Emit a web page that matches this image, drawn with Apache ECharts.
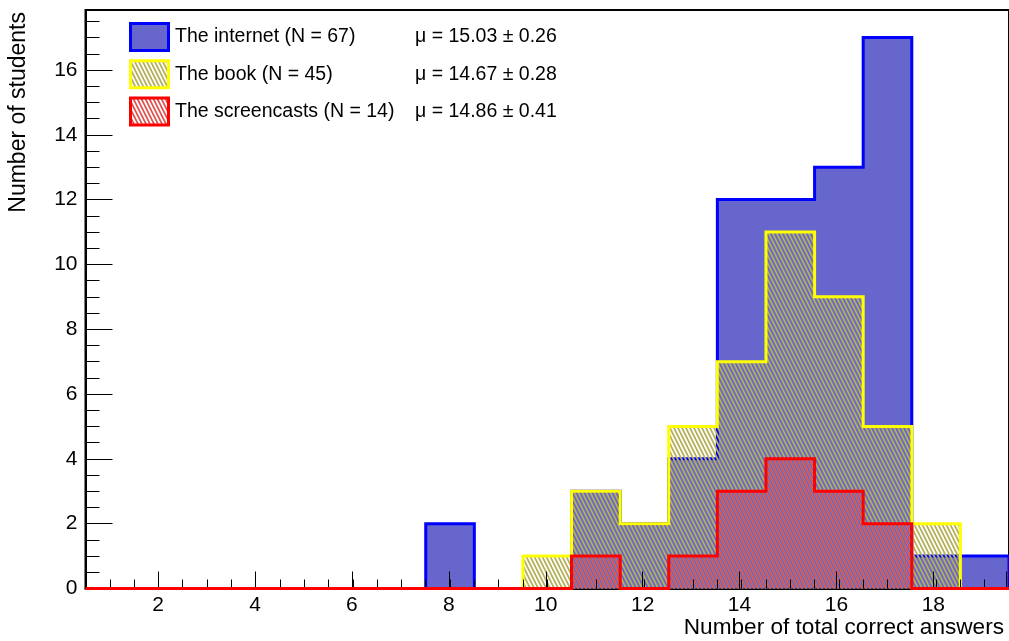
<!DOCTYPE html>
<html><head><meta charset="utf-8">
<script src="https://cdn.jsdelivr.net/npm/echarts@6/dist/echarts.min.js"></script>
<style>html,body{margin:0;padding:0;background:#fff}#c{width:1009px;height:641px}</style>
</head><body><div id="c"></div>
<script>
// ---- data ----
const binCenters = [1,2,3,4,5,6,7,8,9,10,11,12,13,14,15,16,17,18,19];
const internet    = [0,0,0,0,0,0,0,2,0,0,3,2,4,12,12,13,17,1,1];
const book        = [0,0,0,0,0,0,0,0,0,1,3,2,5,7,11,9,5,2,0];
const screencasts = [0,0,0,0,0,0,0,0,0,0,1,0,1,3,4,3,2,0,0];
const seriesNames = ['The internet (N = 67)', 'The book (N = 45)', 'The screencasts (N = 14)'];
const meanLabels  = ['\u03bc = 15.03 \u00b1 0.26', '\u03bc = 14.67 \u00b1 0.28', '\u03bc = 14.86 \u00b1 0.41'];
const xTitle = 'Number of total correct answers';
const yTitle = 'Number of students';
const xRange = [0.5, 19.5];
const yRange = [0, 17.85];

// ---- styles ----
const FONT = 'Liberation Sans, Arial, Helvetica, sans-serif';
function hatch(color, lw) {
  const W = 4, H = 8;
  const c = document.createElement('canvas'); c.width = W; c.height = H;
  const g = c.getContext('2d');
  g.strokeStyle = color; g.lineWidth = lw;
  for (let k = -2; k <= 2; k++) {
    g.beginPath();
    g.moveTo(k * W - W * 0.5, -H * 0.5);
    g.lineTo(k * W + W * 1.5, H * 1.5);
    g.stroke();
  }
  return { image: c, repeat: 'repeat' };
}
const histStyles = [
  { fill: '#6666cc', stroke: '#0000ff' },
  { fill: hatch('#b4b05a', 1.8), stroke: '#ffff00' },
  { fill: hatch('#e05050', 1.7), stroke: '#ff0000' }
];
const histData = [internet, book, screencasts];

function histPoints(api, vals) {
  const half = (binCenters[1] - binCenters[0]) / 2;
  const pts = [api.coord([binCenters[0] - half, 0])];
  vals.forEach((v, i) => {
    pts.push(api.coord([binCenters[i] - half, v]));
    pts.push(api.coord([binCenters[i] + half, v]));
  });
  pts.push(api.coord([binCenters[binCenters.length - 1] + half, 0]));
  return pts;
}

const series = [];
histData.forEach((vals, k) => {
  const data = binCenters.map((b, i) => [b, vals[i]]);
  series.push({
    type: 'custom', name: seriesNames[k] + ' fill', xAxisIndex: 0, yAxisIndex: 0,
    z: 2, clip: false, silent: true, data,
    renderItem: (params, api) => params.dataIndex !== 0 ? null : {
      type: 'polygon', shape: { points: histPoints(api, vals) },
      style: { fill: histStyles[k].fill, stroke: null }
    }
  });
  series.push({
    type: 'custom', name: seriesNames[k], xAxisIndex: 0, yAxisIndex: 0,
    z: k === 2 ? 4 : 2, clip: false, silent: true, data,
    renderItem: (params, api) => params.dataIndex !== 0 ? null : {
      type: 'polyline', shape: { points: histPoints(api, vals) },
      style: { fill: null, stroke: histStyles[k].stroke, lineWidth: 3, lineJoin: 'miter' }
    }
  });
});

const gridRect = { left: 85.5, top: 10, width: 925, height: 578.5 };
const intLabel = v => (Math.abs(v - Math.round(v)) < 1e-6 ? String(Math.round(v)) : '');
const tickLine = { color: '#000', width: 1 };

const option = {
  animation: false,
  backgroundColor: '#fff',
  grid: [
    Object.assign({ show: true, borderColor: '#000', borderWidth: 2, backgroundColor: 'transparent' }, gridRect),
    Object.assign({}, gridRect),
    Object.assign({}, gridRect)
  ],
  xAxis: [
    { gridIndex: 0, type: 'value', min: xRange[0], max: xRange[1], z: 0,
      axisLine: { show: true, lineStyle: { color: '#000', width: 2 } }, axisTick: { show: false },
      axisLabel: { show: false }, splitLine: { show: false } },
    { gridIndex: 1, type: 'value', min: xRange[0], max: xRange[1], interval: 0.5, z: 3,
      axisLine: { show: false }, axisTick: { show: true, inside: true, length: 9, lineStyle: tickLine },
      axisLabel: { show: false }, splitLine: { show: false } },
    { gridIndex: 2, type: 'value', min: xRange[0], max: xRange[1], minInterval: 2, maxInterval: 2, z: 3,
      axisLine: { show: false }, axisTick: { show: true, inside: true, length: 17, lineStyle: tickLine },
      axisLabel: { show: true, formatter: intLabel, color: '#000', fontSize: 21, fontFamily: FONT, margin: 6 },
      splitLine: { show: false } }
  ],
  yAxis: [
    { gridIndex: 0, type: 'value', min: yRange[0], max: yRange[1], z: 0,
      axisLine: { show: true, lineStyle: { color: '#000', width: 2 } }, axisTick: { show: false },
      axisLabel: { show: false }, splitLine: { show: false } },
    { gridIndex: 1, type: 'value', min: yRange[0], max: yRange[1], interval: 0.5, z: 3,
      axisLine: { show: false }, axisTick: { show: true, inside: true, length: 14, lineStyle: tickLine },
      axisLabel: { show: false }, splitLine: { show: false } },
    { gridIndex: 2, type: 'value', min: yRange[0], max: yRange[1], interval: 2, z: 3,
      axisLine: { show: false }, axisTick: { show: true, inside: true, length: 27, lineStyle: tickLine },
      axisLabel: { show: true, formatter: intLabel, color: '#000', fontSize: 21, fontFamily: FONT, margin: 8 },
      splitLine: { show: false } }
  ],
  series,
  graphic: [
    { type: 'text', x: 19, y: 12, rotation: Math.PI / 2, z: 100,
      style: { text: yTitle, fill: '#000', font: '23px ' + FONT, align: 'right', verticalAlign: 'middle', textAlign: 'right', textVerticalAlign: 'middle' } },
    { type: 'text', x: 1004, y: 628, z: 100,
      style: { text: xTitle, fill: '#000', font: '22.6px ' + FONT, align: 'right', verticalAlign: 'middle', textAlign: 'right', textVerticalAlign: 'middle' } }
  ].concat(...seriesNames.map((name, k) => {
    const yc = 37 + k * 37.2;
    return [
      { type: 'rect', z: 100, shape: { x: 130.5, y: yc - 13.5, width: 38, height: 27 },
        style: { fill: histStyles[k].fill, stroke: histStyles[k].stroke, lineWidth: 3 } },
      { type: 'text', x: 175, y: yc, z: 100,
        style: { text: name, fill: '#000', font: '19.5px ' + FONT, align: 'left', verticalAlign: 'middle', textAlign: 'left', textVerticalAlign: 'middle' } },
      { type: 'text', x: 415, y: yc, z: 100,
        style: { text: meanLabels[k], fill: '#000', font: '19.5px ' + FONT, align: 'left', verticalAlign: 'middle', textAlign: 'left', textVerticalAlign: 'middle' } }
    ];
  }))
};

const chart = echarts.init(document.getElementById('c'), null, { renderer: 'canvas' });
chart.setOption(option);
</script>
</body></html>
